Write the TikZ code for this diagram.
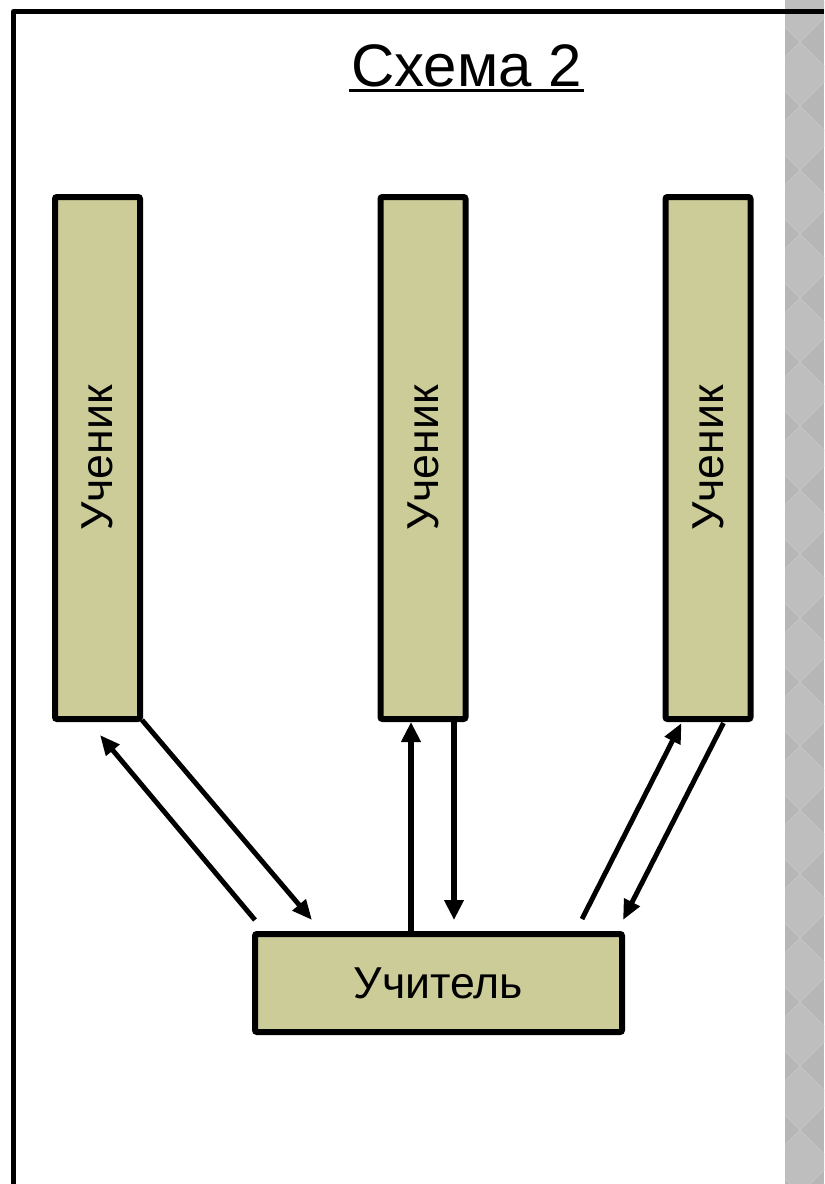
\documentclass[tikz,border=0pt]{standalone}
\usepackage{fontspec}
\setmainfont{Liberation Sans}
\usetikzlibrary{arrows.meta,calc}
\definecolor{khaki}{RGB}{204,204,153}
\definecolor{stripe}{RGB}{182,182,182}
\definecolor{stripelight}{RGB}{190,190,190}
\definecolor{stripeline}{RGB}{196,196,196}
\tikzset{
  pupil/.style={draw=black, fill=khaki, line width=4.5pt, rounded corners=1.5pt,
    minimum width=63.75pt, minimum height=391.5pt, inner sep=0pt, outer sep=0pt,
    font=\fontsize{33.5pt}{36pt}\selectfont},
  teacher/.style={draw=black, fill=khaki, line width=4.5pt, rounded corners=1.5pt,
    minimum width=275.25pt, minimum height=73.5pt, inner sep=0pt, outer sep=0pt,
    font=\fontsize{33.5pt}{36pt}\selectfont},
  arr/.style={line width=3.7pt, -{Triangle[length=15pt,width=12.5pt]}},
  arrthick/.style={line width=4.5pt, -{Triangle[length=15pt,width=14pt]}}
}
\begin{document}
\begin{tikzpicture}[x=0.75pt,y=-0.75pt]
\useasboundingbox (0,0) rectangle (824,1184);
\fill[white] (0,0) rectangle (824,1184);
% grey side stripe
\fill[stripe] (785,0) rectangle (824,1184);
\begin{scope}
  \clip (785,0) rectangle (824,1184);
  \foreach \k in {-1,...,19}{
    \fill[stripelight] (800,{42+64*\k}) -- (832,{74+64*\k}) -- (800,{106+64*\k}) -- (768,{74+64*\k}) -- cycle;
    \draw[stripeline, line width=0.6pt] (768,{10+64*\k}) -- (832,{74+64*\k});
    \draw[stripeline, line width=0.6pt] (768,{74+64*\k}) -- (832,{10+64*\k});
  }
\end{scope}
% frame
\draw[line width=3.75pt, line join=round] (13.5,1184) -- (13.5,11.5) -- (824,11.5);
% title
\node[anchor=base, inner sep=0pt, font=\fontsize{45pt}{50pt}\selectfont] (title) at (466.5,87) {Схема 2};
\draw[line width=1.9pt] ($(title.base west)+(-2,3.5)$) -- ($(title.base east)+(2,3.5)$);
% pupils
\node[pupil] (s1) at (97.5,458) {\rotatebox{90}{Ученик}};
\node[pupil] (s2) at (423,458) {\rotatebox{90}{Ученик}};
\node[pupil] (s3) at (708,458) {\rotatebox{90}{Ученик}};
% teacher
\node[teacher] (t) at (438.5,983) {Учитель};
% arrows left
\draw[arr] ($(s1.south east)+(2,1)$) -- ($(t.north west)+(57,-14)$);
\draw[arr] ($(t.north west)+(0,-14)$) -- ($(s1.south)+(2.5,16)$);
% arrows middle
\draw[arrthick] ($(t.north west)+(156,0)$) -- ($(s2.south)+(-12,3)$);
\draw[arrthick] ($(s2.south)+(31,3)$) -- ($(t.north west)+(199,-14)$);
% arrows right
\draw[arr] ($(t.north east)+(-40,-15)$) -- ($(s3.south west)+(16,4)$);
\draw[arr] ($(s3.south east)+(-27,4)$) -- ($(t.north east)+(1,-14)$);
\end{tikzpicture}
\end{document}
